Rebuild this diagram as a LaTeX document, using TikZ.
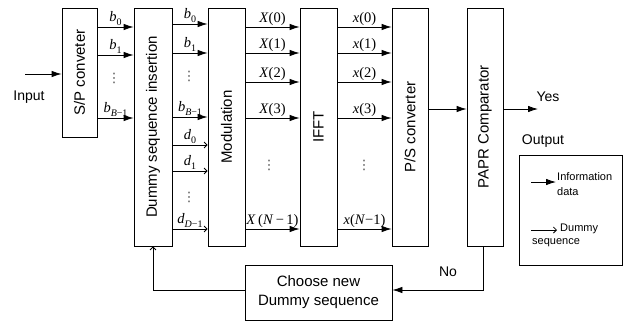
\documentclass[tikz,border=0pt]{standalone}
\usepackage{fontspec}
\setmainfont{Liberation Sans}
\newfontfamily\tms{Liberation Serif}
\newfontfamily\djv{DejaVu Sans}
\usetikzlibrary{arrows.meta}
\newcommand\vi[1]{\textit{#1}}
\newcommand\sbs[1]{\raisebox{-0.25em}{\fontsize{10}{10}\selectfont #1}}
\tikzset{
  blk/.style={draw, line width=0.8pt, inner sep=0pt, font=\fontsize{15}{17}\selectfont},
  info/.style={line width=0.8pt, -{Latex[length=10pt,width=6.5pt]}},
  dumarr/.style={line width=0.8pt, -{Straight Barb[length=3pt,width=6pt]}},
  lab/.style={font=\tms\fontsize{14.5}{16}\selectfont, inner sep=1.5pt},
  dts/.style={font=\djv\fontsize{13}{13}\selectfont, inner sep=0pt, text=black!70},
  txt/.style={font=\fontsize{14}{16}\selectfont, inner sep=0pt},
}
\begin{document}
\begin{tikzpicture}[x=1pt,y=-1pt]
\useasboundingbox (0,0) rectangle (625,325);
% blocks
\node[blk, minimum width=35pt, minimum height=129pt] (sp) at (79.5,72.5) {\rotatebox{90}{S/P conveter}};
\node[blk, minimum width=38pt, minimum height=238pt] (dsi) at (153,127) {\rotatebox{90}{Dummy sequence insertion}};
\node[blk, minimum width=37pt, minimum height=238pt] (mod) at (226.5,127) {\rotatebox{90}{Modulation}};
\node[blk, minimum width=37pt, minimum height=238pt] (ifft) at (318.5,127) {\rotatebox{90}{IFFT}};
\node[blk, minimum width=36pt, minimum height=238pt] (ps) at (410,127) {\rotatebox{90}{P/S converter}};
\node[blk, minimum width=36pt, minimum height=238pt] (papr) at (485,127) {\rotatebox{90}{PAPR Comparator}};
\node[blk, minimum width=147pt, minimum height=55pt, align=center] (choose) at (318.5,292.5) {Choose new\\[2pt]Dummy sequence};
\node[draw, line width=0.8pt, minimum width=103pt, minimum height=110pt, inner sep=0pt] (legend) at (570.5,210) {};

% input
\coordinate (in) at (25,74);
\draw[info] (in) -- (sp.west |- in);
\node[txt] (inputlab) at (29,97) {Input};

% S/P -> DSI
\foreach \yy/\ll in {27/{\vi{b}\sbs{0}}, 55/{\vi{b}\sbs{1}}, 118/{\vi{b}\sbs{\vi{B}−1}}} {
  \draw[info] (sp.east |- 0,\yy) -- node[lab, above] {\ll} (dsi.west |- 0,\yy);
}
\node[dts] (dots1) at (114,78) {⋮};

% DSI -> MOD
\foreach \yy/\ll in {24/{\vi{b}\sbs{0}}, 53/{\vi{b}\sbs{1}}, 117/{\vi{b}\sbs{\vi{B}−1}}} {
  \draw[info] (dsi.east |- 0,\yy) -- node[lab, above] {\ll} (mod.west |- 0,\yy);
}
\foreach \yy/\ll in {145/{\vi{d}\sbs{0}}, 171/{\vi{d}\sbs{1}}, 229/{\vi{d}\sbs{\vi{D}−1}}} {
  \draw[dumarr] (dsi.east |- 0,\yy) -- node[lab, above] {\ll} (mod.west |- 0,\yy);
}
\node[dts] (dots2) at (189,76) {⋮};
\node[dts] (dots3) at (189,197) {⋮};

% MOD -> IFFT
\foreach \yy/\ll in {27/{\vi{X}(0)}, 53/{\vi{X}(1)}, 82/{\vi{X}(2)}, 118/{\vi{X}(3)}, 229/{\vi{X}\,(\vi{N}\,−\,1)}} {
  \draw[info] (mod.east |- 0,\yy) -- node[lab, above] {\ll} (ifft.west |- 0,\yy);
}
\node[dts] (dots4) at (269,165) {⋮};

% IFFT -> PS
\foreach \yy/\ll in {27/{\vi{x}(0)}, 53/{\vi{x}(1)}, 82/{\vi{x}(2)}, 118/{\vi{x}(3)}, 229/{\vi{x}(\vi{N}−1)}} {
  \draw[info] (ifft.east |- 0,\yy) -- node[lab, above] {\ll} (ps.west |- 0,\yy);
}
\node[dts] (dots5) at (364,165) {⋮};

% PS -> PAPR -> output
\draw[info] (ps.east |- 0,109) -- (papr.west |- 0,109);
\coordinate (out) at (538,109);
\draw[info] (papr.east |- out) -- (out);
\node[txt] (yes) at (548,97) {Yes};
\node[txt] (output) at (543,141) {Output};

% feedback
\coordinate (fbr) at (483,290);
\coordinate (fbl) at (153,290);
\draw[info] (papr.south -| fbr) -- (fbr) -- (choose.east |- fbr);
\node[txt] (no) at (448,272) {No};
\draw[dumarr] (choose.west |- fbl) -- (fbl) -- (dsi.south);

% legend
\coordinate (l1a) at (531,182);
\coordinate (l1b) at (556,182);
\draw[info] (l1a) -- (l1b);
\node[anchor=west, align=left, inner sep=0pt, font=\fontsize{11}{15}\selectfont] (l1t) at (557,184) {Information\\ data};
\coordinate (l2a) at (531,230);
\coordinate (l2b) at (557,230);
\draw[dumarr] (l2a) -- (l2b);
\node[anchor=west, inner sep=0pt, font=\fontsize{11}{13}\selectfont] (l2t) at (560,229) {Dummy};
\node[anchor=west, inner sep=0pt, font=\fontsize{11}{13}\selectfont] (l2u) at (532,243) {sequence};
\end{tikzpicture}
\end{document}
